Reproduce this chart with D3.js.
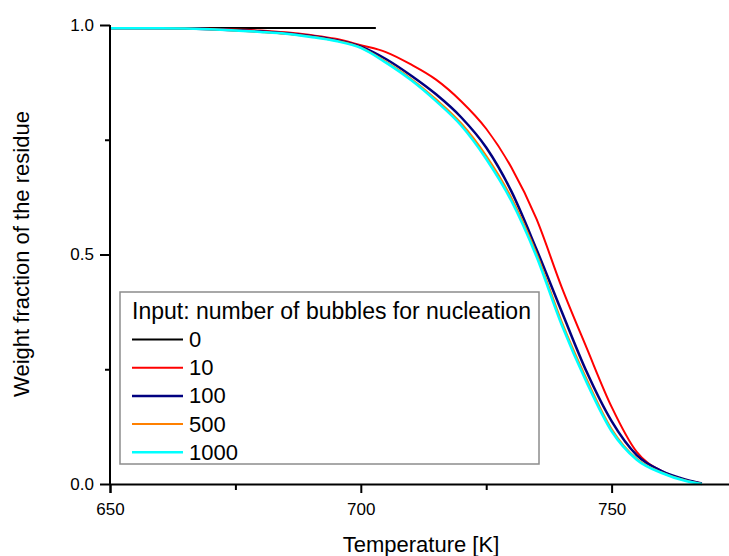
<!DOCTYPE html>
<html>
<head>
<meta charset="utf-8">
<script src="https://cdn.jsdelivr.net/npm/d3@7"></script>
<style>
  body { margin: 0; background: #fff; }
  svg { display: block; font-family: Arial, "Liberation Sans", sans-serif; }
</style>
</head>
<body>
<svg width="729" height="556"></svg>
<script>
// temperatures [K] shared by the simulated curves
let temps = [650, 660, 670, 680, 685, 690, 695, 700, 705, 710, 715, 720, 725, 730, 735, 740, 745, 750, 755, 760, 765, 768];

// weight fraction of the residue, one array per input
let temps0 = [650, 703];
let w0 = [0.9935, 0.9935];
let w10 = [0.993, 0.993, 0.992, 0.988, 0.984, 0.978, 0.970, 0.956, 0.941, 0.914, 0.881, 0.834, 0.774, 0.690, 0.578, 0.430, 0.297, 0.168, 0.070, 0.028, 0.008, 0.001];
let w100 = [0.993, 0.993, 0.991, 0.986, 0.982, 0.976, 0.967, 0.953, 0.926, 0.890, 0.849, 0.799, 0.733, 0.638, 0.512, 0.377, 0.245, 0.137, 0.063, 0.028, 0.009, 0.001];
let w500 = [0.993, 0.993, 0.991, 0.985, 0.981, 0.975, 0.966, 0.951, 0.920, 0.883, 0.838, 0.786, 0.715, 0.624, 0.503, 0.355, 0.229, 0.120, 0.055, 0.025, 0.007, 0.0];
let w1000 = [0.993, 0.993, 0.991, 0.985, 0.981, 0.974, 0.965, 0.950, 0.918, 0.880, 0.834, 0.781, 0.708, 0.617, 0.496, 0.348, 0.222, 0.115, 0.053, 0.024, 0.006, 0.0];

let seriesNames = ['0', '10', '100', '500', '1000'];
let seriesColors = ['#000000', '#ff0000', '#000080', '#ff8000', '#00ffff'];

let xTicks = [650, 700, 750];
let xMinor = [675, 725];
let yTicks = [0, 0.5, 1.0];
let yMinor = [0.25, 0.75];

let svg = d3.select('svg');

let xScale = d3.scaleLinear().domain([650, 774]).range([110, 732]);
let yScale = d3.scaleLinear().domain([0, 1]).range([484, 25]);

let series = [
    { name: seriesNames[0], color: seriesColors[0], x: temps0, y: w0, width: 2 },
    { name: seriesNames[1], color: seriesColors[1], x: temps, y: w10, width: 2 },
    { name: seriesNames[2], color: seriesColors[2], x: temps, y: w100, width: 2.5 },
    { name: seriesNames[3], color: seriesColors[3], x: temps, y: w500, width: 2 },
    { name: seriesNames[4], color: seriesColors[4], x: temps, y: w1000, width: 2.5 }
];

let line = d3.line()
    .x(d => xScale(d[0]))
    .y(d => yScale(d[1]))
    .curve(d3.curveMonotoneX);

// curves
series.forEach(s => {
    svg.append('path')
        .datum(s.x.map((t, i) => [t, s.y[i]]))
        .attr('fill', 'none')
        .attr('stroke', s.color)
        .attr('stroke-width', s.width)
        .attr('d', line);
});

// axes
let xAxis = svg.append('g')
    .attr('transform', 'translate(0,' + yScale(0) + ')')
    .call(d3.axisBottom(xScale).tickValues(xTicks).tickSize(9).tickPadding(10).tickFormat(d3.format('d')));
let xAxisMinor = svg.append('g')
    .attr('transform', 'translate(0,' + yScale(0) + ')')
    .call(d3.axisBottom(xScale).tickValues(xMinor).tickSize(6).tickFormat(''));

let yAxis = svg.append('g')
    .attr('transform', 'translate(' + xScale(650) + ',0)')
    .call(d3.axisLeft(yScale).tickValues(yTicks).tickSize(10).tickPadding(6).tickFormat(d3.format('.1f')));
let yAxisMinor = svg.append('g')
    .attr('transform', 'translate(' + xScale(650) + ',0)')
    .call(d3.axisLeft(yScale).tickValues(yMinor).tickSize(5).tickFormat(''));

svg.selectAll('.domain').attr('stroke', '#000').attr('stroke-width', 2);
svg.selectAll('.tick line').attr('stroke', '#000').attr('stroke-width', 2);
svg.selectAll('.tick text').attr('fill', '#000').style('font-size', '17px').style('font-family', 'Arial, "Liberation Sans", sans-serif');
xAxisMinor.select('.domain').remove();
yAxisMinor.select('.domain').remove();
yAxis.select('.domain').attr('d', 'M0,' + yScale(0) + 'V' + yScale(1));

// axis titles
svg.append('text')
    .attr('x', 421)
    .attr('y', 552)
    .attr('text-anchor', 'middle')
    .style('font-size', '22px')
    .text('Temperature [K]');

svg.append('text')
    .attr('transform', 'translate(29,254) rotate(-90)')
    .attr('text-anchor', 'middle')
    .style('font-size', '22px')
    .text('Weight fraction of the residue');

// legend
let legend = svg.append('g');
legend.append('rect')
    .attr('x', 120).attr('y', 292)
    .attr('width', 419).attr('height', 172)
    .attr('fill', '#fff')
    .attr('stroke', '#8c8c8c')
    .attr('stroke-width', 1.5);

legend.append('text')
    .attr('x', 132).attr('y', 311)
    .attr('dominant-baseline', 'central')
    .style('font-size', '23px')
    .text('Input: number of bubbles for nucleation');

series.forEach((s, i) => {
    let yy = 339.5 + i * 28.2;
    legend.append('line')
        .attr('x1', 132).attr('x2', 183)
        .attr('y1', yy).attr('y2', yy)
        .attr('stroke', s.color)
        .attr('stroke-width', s.width);
    legend.append('text')
        .attr('x', 189).attr('y', yy)
        .attr('dominant-baseline', 'central')
        .style('font-size', '22px')
        .text(s.name);
});
</script>
</body>
</html>
